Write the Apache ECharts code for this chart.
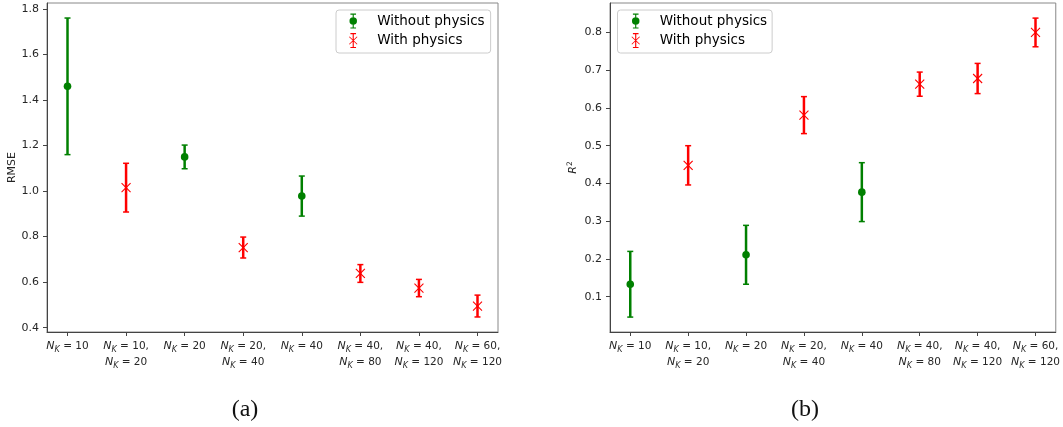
<!DOCTYPE html>
<html>
<head>
<meta charset="utf-8">
<script src="https://cdn.jsdelivr.net/npm/echarts@6/dist/echarts.min.js"></script>
<style>
  html, body { margin: 0; padding: 0; background: #fff; }
  #chart { width: 1063px; height: 427px; }
</style>
</head>
<body>
<div id="chart"></div>
<script>
// N_K values of each model (two lines = two knot sets)
const xLabels = [['10'], ['10', '20'], ['20'], ['20', '40'], ['40'], ['40', '80'], ['40', '120'], ['60', '120']];
const withPhysics = [false, true, false, true, false, true, true, true];

// (a) RMSE: mean and error half-width
const rmseMean = [1.46, 1.015, 1.15, 0.752, 0.978, 0.638, 0.574, 0.495];
const rmseErr = [0.30, 0.107, 0.052, 0.046, 0.088, 0.039, 0.038, 0.048];
const rmseTicks = [0.4, 0.6, 0.8, 1.0, 1.2, 1.4, 1.6, 1.8];

// (b) R^2: mean and error half-width
const r2Mean = [0.133, 0.448, 0.211, 0.581, 0.377, 0.663, 0.678, 0.80];
const r2Err = [0.087, 0.052, 0.078, 0.049, 0.078, 0.032, 0.040, 0.038];
const r2Ticks = [0.1, 0.2, 0.3, 0.4, 0.5, 0.6, 0.7, 0.8];

const xTicks = [0, 1, 2, 3, 4, 5, 6, 7];

const GREEN = '#008000';
const RED = '#ff0000';
const TEXT = '#262626';

var myChart = echarts.init(document.getElementById('chart'));

// error bar + marker, drawn through the axis scales
function errorBar(phys) {
  return function (params, api) {
    const x = api.value(0), m = api.value(1), e = api.value(2);
    const c = api.coord([x, m]);
    const top = api.coord([x, m + e]);
    const bot = api.coord([x, m - e]);
    const color = phys ? RED : GREEN;
    const children = [
      { type: 'line', shape: { x1: c[0], y1: top[1], x2: c[0], y2: bot[1] }, style: { stroke: color, lineWidth: 2.5 } },
      { type: 'line', shape: { x1: c[0] - 3, y1: top[1], x2: c[0] + 3, y2: top[1] }, style: { stroke: color, lineWidth: 1.5 } },
      { type: 'line', shape: { x1: c[0] - 3, y1: bot[1], x2: c[0] + 3, y2: bot[1] }, style: { stroke: color, lineWidth: 1.5 } }
    ];
    if (phys) {
      children.push(
        { type: 'line', shape: { x1: c[0] - 4.5, y1: c[1] - 4.5, x2: c[0] + 4.5, y2: c[1] + 4.5 }, style: { stroke: color, lineWidth: 1.1 } },
        { type: 'line', shape: { x1: c[0] - 4.5, y1: c[1] + 4.5, x2: c[0] + 4.5, y2: c[1] - 4.5 }, style: { stroke: color, lineWidth: 1.1 } }
      );
    } else {
      children.push({ type: 'circle', shape: { cx: c[0], cy: c[1], r: 3.8 }, style: { fill: color } });
    }
    return { type: 'group', children: children };
  };
}

function pick(mean, err, phys) {
  return mean.map((m, i) => [i, m, err[i]]).filter((d, i) => withPhysics[i] === phys);
}

function xLabel(v) {
  const lines = xLabels[v];
  if (!lines) return '';
  return lines.map((n, j) => '{n|N}{k|K}{t| = ' + n + (j < lines.length - 1 ? ',' : '') + '}').join('\n');
}

const iconNoPhys = 'path://M2,0H8V1.2H5.6V14.8H8V16H2V14.8H4.4V1.2H2Z M1,8A4,4,0,1,1,9,8A4,4,0,1,1,1,8Z';
const iconPhys = 'path://M2,0H8V1.2H5.6V14.8H8V16H2V14.8H4.4V1.2H2Z M0.5,4.3L1.1,3.7L9.5,11.7L8.9,12.3Z M8.9,3.7L9.5,4.3L1.1,12.3L0.5,11.7Z';

const richX = {
  n: { fontStyle: 'italic', fontSize: 11, color: TEXT, fontFamily: 'DejaVu Sans' },
  k: { fontStyle: 'italic', fontSize: 8, color: TEXT, fontFamily: 'DejaVu Sans', padding: [7, 0, 0, 0] },
  t: { fontSize: 10.5, color: TEXT, fontFamily: 'DejaVu Sans' }
};

function xAxis(idx) {
  return {
    type: 'value', gridIndex: idx, min: -0.35, max: 7.35,
    axisLine: { onZero: false, lineStyle: { color: '#444' } },
    splitLine: { show: false },
    axisTick: { customValues: xTicks, length: 4, lineStyle: { color: '#444' } },
    axisLabel: { customValues: xTicks, formatter: xLabel, margin: 6, lineHeight: 16, rich: richX }
  };
}

function yAxis(idx, min, max, ticks, name, gap, rich) {
  return {
    type: 'value', gridIndex: idx, min: min, max: max,
    name: name, nameLocation: 'middle', nameRotate: 90, nameGap: gap,
    nameTextStyle: { color: TEXT, fontSize: 11, fontFamily: 'DejaVu Sans', rich: rich },
    axisLine: { show: true, onZero: false, lineStyle: { color: '#444' } },
    splitLine: { show: false },
    axisTick: { show: true, customValues: ticks, length: 4, lineStyle: { color: '#444' } },
    axisLabel: {
      customValues: ticks, margin: 8, color: TEXT, fontSize: 11, fontFamily: 'DejaVu Sans',
      formatter: (v) => v.toFixed(1)
    }
  };
}

function legend(left, padLeft, padRight) {
  return {
    left: left, top: 10, orient: 'vertical',
    padding: [3.5, padRight, 5, padLeft], itemGap: 4.5,
    itemWidth: 10, itemHeight: 15,
    borderColor: '#cccccc', borderWidth: 1, borderRadius: 3,
    backgroundColor: 'rgba(255,255,255,0.8)',
    textStyle: { color: '#000', fontSize: 13.5, fontFamily: 'DejaVu Sans', padding: [0, 0, 0, 14] },
    data: [
      { name: 'Without physics', icon: iconNoPhys, itemStyle: { color: GREEN } },
      { name: 'With physics', icon: iconPhys, itemStyle: { color: RED } }
    ]
  };
}

let option = {
  animation: false,
  backgroundColor: '#fff',
  grid: [
    { left: 47, top: 3, right: 565, bottom: 95, show: true, borderColor: '#888', borderWidth: 1 },
    { left: 610, top: 3, right: 4, bottom: 95, show: true, borderColor: '#888', borderWidth: 1 }
  ],
  legend: [legend(336, 13, 6), legend(617.5, 14, 5)],
  xAxis: [xAxis(0), xAxis(1)],
  yAxis: [
    yAxis(0, 0.381, 1.826, rmseTicks, 'RMSE', 28, null),
    yAxis(1, 0.0065, 0.878, r2Ticks, '{i|R}{s|2}', 29, {
      i: { fontStyle: 'italic', fontSize: 11, color: TEXT, fontFamily: 'DejaVu Sans' },
      s: { fontSize: 7.5, color: TEXT, fontFamily: 'DejaVu Sans', padding: [0, 0, 7, 0] }
    })
  ],
  series: [
    { name: 'Without physics', type: 'custom', xAxisIndex: 0, yAxisIndex: 0, encode: { x: 0, y: 1 },
      itemStyle: { color: GREEN }, renderItem: errorBar(false), data: pick(rmseMean, rmseErr, false) },
    { name: 'With physics', type: 'custom', xAxisIndex: 0, yAxisIndex: 0, encode: { x: 0, y: 1 },
      itemStyle: { color: RED }, renderItem: errorBar(true), data: pick(rmseMean, rmseErr, true) },
    { name: 'Without physics', type: 'custom', xAxisIndex: 1, yAxisIndex: 1, encode: { x: 0, y: 1 },
      itemStyle: { color: GREEN }, renderItem: errorBar(false), data: pick(r2Mean, r2Err, false) },
    { name: 'With physics', type: 'custom', xAxisIndex: 1, yAxisIndex: 1, encode: { x: 0, y: 1 },
      itemStyle: { color: RED }, renderItem: errorBar(true), data: pick(r2Mean, r2Err, true) }
  ],
  graphic: [
    { type: 'text', x: 245, y: 410, style: { text: '(a)', fontSize: 24, fontFamily: 'Liberation Serif', fill: '#111',
      align: 'center', verticalAlign: 'middle', textAlign: 'center', textVerticalAlign: 'middle' } },
    { type: 'text', x: 805, y: 410, style: { text: '(b)', fontSize: 24, fontFamily: 'Liberation Serif', fill: '#111',
      align: 'center', verticalAlign: 'middle', textAlign: 'center', textVerticalAlign: 'middle' } }
  ]
};
myChart.setOption(option);
</script>
</body>
</html>
